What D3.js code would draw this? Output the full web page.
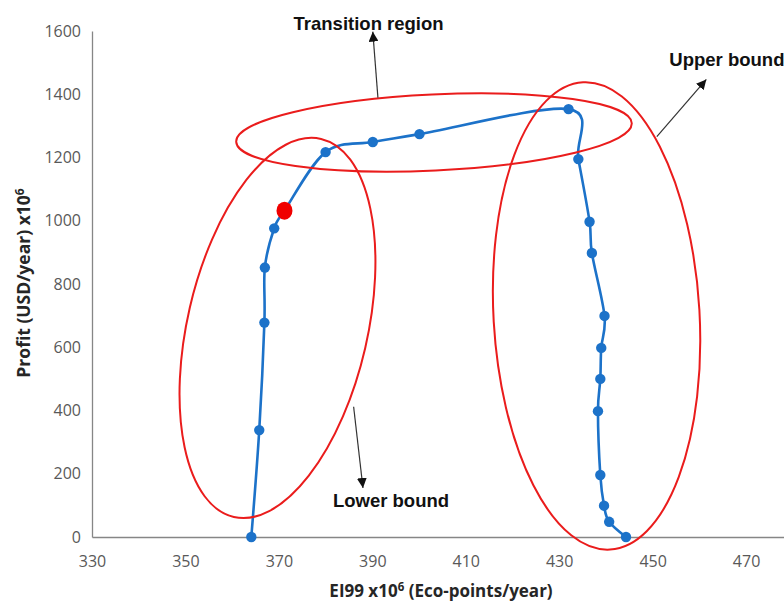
<!DOCTYPE html>
<html>
<head>
<meta charset="utf-8">
<script src="https://cdn.jsdelivr.net/npm/d3@7"></script>
<style>
  body { margin: 0; background: #fff; }
  svg { display: block; }
</style>
</head>
<body>
<svg id="chart" width="784" height="602"></svg>
<script>
// EI99 vs profit pareto curve
const eiValues = [364.1, 365.8, 366.9, 367.0, 369.0, 371.2, 380.0, 390.1, 400.1, 432.0,
  434.1, 436.5, 437.0, 439.7, 439.0, 438.8, 438.3, 438.8, 439.6, 440.7, 444.3];
const profitValues = [0, 338, 678, 852, 976, 1032, 1217, 1249, 1274, 1353,
  1195, 997, 898, 699, 598, 500, 398, 196, 99, 48, 0];
const highlightIndex = 5; // the red point

const xTicks = [330, 350, 370, 390, 410, 430, 450, 470];
const yTicks = [0, 200, 400, 600, 800, 1000, 1200, 1400, 1600];

// hand drawn annotations: centres in data units, radii in px
const regionCentres = [[403.2, 1279], [369.7, 661], [438.0, 699]];
const regionRadii = [[198, 38, -2.7], [90, 194, 13], [103, 234, -3.3]];
const arrowFrom = [[391.2, 1389], [386.0, 412], [450.9, 1266]];
const arrowTo = [[390.1, 1598], [388.0, 155], [461.5, 1447]];
const labelText = ['Transition region', 'Lower bound', 'Upper bound'];
const labelAt = [[389.2, 1602], [394.0, 95], [465.9, 1488]];

const svg = d3.select('#chart');
// axis runs on past 470 and is cut by the picture edge
const x = d3.scaleLinear().domain([330, 490]).range([92, 839.5]);
const y = d3.scaleLinear().domain([0, 1600]).range([537, 31]);

const axisColor = '#868686';
const tickFont = '"Open Sans", "Liberation Sans", sans-serif';

// axes
const xAxis = svg.append('g')
  .attr('transform', `translate(0,${y(0)})`)
  .call(d3.axisBottom(x).tickValues(xTicks).tickFormat(d3.format('d')).tickSize(0).tickSizeOuter(0).tickPadding(19));
xAxis.select('.domain').attr('stroke', axisColor).attr('stroke-width', 1.3);
xAxis.selectAll('text').attr('fill', '#595959').style('font-family', tickFont).style('font-size', '16px');

const yAxis = svg.append('g')
  .attr('transform', `translate(${x(330)},0)`)
  .call(d3.axisLeft(y).tickValues(yTicks).tickFormat(d3.format('d')).tickSize(0).tickSizeOuter(0).tickPadding(11));
yAxis.select('.domain').attr('stroke', axisColor).attr('stroke-width', 1.3);
yAxis.selectAll('text').attr('fill', '#595959').style('font-family', tickFont).style('font-size', '16px');

// axis titles
const titleFont = '"Open Sans", "Liberation Sans", sans-serif';
const xt = svg.append('text')
  .attr('x', 441).attr('y', 597)
  .attr('text-anchor', 'middle')
  .style('font-family', titleFont).style('font-weight', 'bold').style('font-size', '17px')
  .attr('fill', '#262626');
xt.append('tspan').text('EI99 x10');
xt.append('tspan').attr('dy', -6).style('font-size', '11.5px').text('6');
xt.append('tspan').attr('dy', 6).text(' (Eco-points/year)');

const yt = svg.append('text')
  .attr('transform', 'translate(30,283) rotate(-90)')
  .attr('text-anchor', 'middle')
  .style('font-family', titleFont).style('font-weight', 'bold').style('font-size', '17.5px')
  .attr('fill', '#262626');
yt.append('tspan').text('Profit (USD/year) x10');
yt.append('tspan').attr('dy', -6).style('font-size', '12px').text('6');

// series line
const points = eiValues.map((v, i) => ({ ei: v, profit: profitValues[i] }));
const line = d3.line()
  .x(d => x(d.ei))
  .y(d => y(d.profit))
  .curve(d3.curveCardinal.tension(0));

svg.append('path')
  .datum(points)
  .attr('d', line)
  .attr('fill', 'none')
  .attr('stroke', '#1c72c9')
  .attr('stroke-width', 2.6);

svg.selectAll('.dot')
  .data(points.filter((d, i) => i !== highlightIndex))
  .enter().append('circle')
  .attr('class', 'dot')
  .attr('cx', d => x(d.ei))
  .attr('cy', d => y(d.profit))
  .attr('r', 5.2)
  .attr('fill', '#1c72c9');

svg.append('ellipse')
  .attr('cx', x(points[highlightIndex].ei))
  .attr('cy', y(points[highlightIndex].profit))
  .attr('rx', 8).attr('ry', 9)
  .attr('fill', '#f00000');

// red region ellipses
regionCentres.forEach((c, i) => {
  const [rx, ry, rot] = regionRadii[i];
  svg.append('ellipse')
    .attr('transform', `translate(${x(c[0])},${y(c[1])}) rotate(${rot})`)
    .attr('rx', rx).attr('ry', ry)
    .attr('fill', 'none')
    .attr('stroke', '#ea1c1c')
    .attr('stroke-width', 2);
});

// arrows
svg.append('defs').append('marker')
  .attr('id', 'head')
  .attr('viewBox', '0 0 10 10')
  .attr('refX', 10).attr('refY', 5)
  .attr('markerWidth', 10).attr('markerHeight', 10)
  .attr('markerUnits', 'userSpaceOnUse')
  .attr('orient', 'auto')
  .append('path')
  .attr('d', 'M0,0 L10,5 L0,10 Z')
  .attr('fill', '#111');

arrowFrom.forEach((f, i) => {
  svg.append('line')
    .attr('x1', x(f[0])).attr('y1', y(f[1]))
    .attr('x2', x(arrowTo[i][0])).attr('y2', y(arrowTo[i][1]))
    .attr('stroke', '#333')
    .attr('stroke-width', 1.2)
    .attr('marker-end', 'url(#head)');
});

labelText.forEach((t, i) => {
  svg.append('text')
    .attr('x', x(labelAt[i][0])).attr('y', y(labelAt[i][1]))
    .attr('text-anchor', 'middle')
    .style('font-family', '"Liberation Sans", Arial, sans-serif')
    .style('font-weight', 'bold')
    .style('font-size', '18.5px')
    .attr('fill', '#111')
    .text(t);
});
</script>
</body>
</html>
